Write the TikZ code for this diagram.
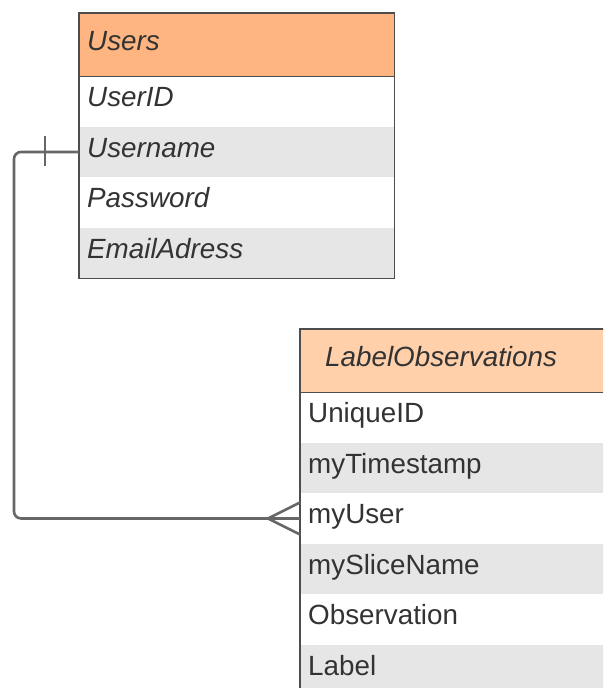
\documentclass[tikz,border=0pt]{standalone}
\usepackage{fontspec}
\setmainfont{Liberation Sans}
\usetikzlibrary{calc}
\definecolor{hdrA}{HTML}{FFB581}
\definecolor{hdrB}{HTML}{FFD0AA}
\definecolor{rowgray}{HTML}{E6E6E6}
\definecolor{txt}{HTML}{333333}
\definecolor{edge}{HTML}{4D4D4D}
\definecolor{conncol}{HTML}{666666}
\tikzset{
  cell/.style={rectangle, anchor=north west, inner xsep=8pt, inner ysep=0pt,
    minimum height=50.5pt, text width=299pt, align=left, text=txt,
    text height=15pt, text depth=4pt,
    font=\fontsize{27.8}{30}\selectfont},
  ucell/.style={cell, minimum width=315pt, text width=299pt},
  lcell/.style={cell, minimum width=330pt, text width=314pt},
  hdr/.style={minimum height=63pt},
  conn/.style={draw=conncol, line width=2.6pt},
  tblborder/.style={draw=edge, line width=1.4pt}
}
\begin{document}
\begin{tikzpicture}[x=1pt,y=-1pt]
\useasboundingbox (0,0) rectangle (603,688);
\clip (0,0) rectangle (603,688);
% Users table
\node[ucell, hdr, fill=hdrA] (uh) at (79,13) {\textit{Users}};
\node[ucell, fill=white] (u1) at (79,76) {\textit{UserID}};
\node[ucell, fill=rowgray] (u2) at (79,126.5) {\textit{Username}};
\node[ucell, fill=white] (u3) at (79,177) {\textit{Password}};
\node[ucell, fill=rowgray] (u4) at (79,227.5) {\textit{EmailAdress}};
\draw[tblborder] (uh.north west) rectangle (u4.south east);
\draw[tblborder] (uh.south west) -- (uh.south east);
% LabelObservations table
\node[lcell, hdr, fill=hdrB, inner xsep=25pt, text width=280pt] (lh) at (300,329) {\textit{LabelObservations}};
\node[lcell, fill=white] (l1) at (300,392) {UniqueID};
\node[lcell, fill=rowgray] (l2) at (300,442.5) {myTimestamp};
\node[lcell, fill=white] (l3) at (300,493) {myUser};
\node[lcell, fill=rowgray] (l4) at (300,543.5) {mySliceName};
\node[lcell, fill=white] (l5) at (300,594) {Observation};
\node[lcell, fill=rowgray] (l6) at (300,644.5) {Label};
\draw[tblborder] (lh.north west) rectangle (l6.south east);
\draw[tblborder] (lh.south west) -- (lh.south east);
% connector
\draw[conn, rounded corners=7pt] (u2.west) -- ++(-65,0) |- (l3.west);
\draw[conn] ($(u2.west)+(-34,-16)$) -- ($(u2.west)+(-34,14)$);
\draw[conn] ($(l3.west)+(0,-16)$) -- ($(l3.west)+(-32,0)$) -- ($(l3.west)+(0,16)$);
\end{tikzpicture}
\end{document}
